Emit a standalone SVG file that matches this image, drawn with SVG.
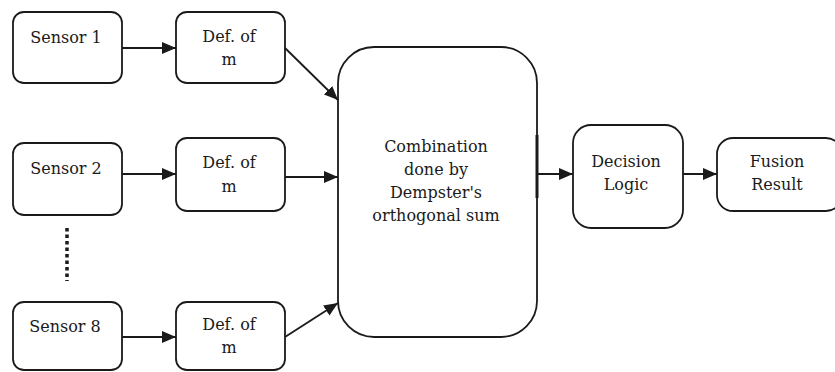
<svg xmlns="http://www.w3.org/2000/svg" width="835" height="372" viewBox="0 0 835 372">
<style>
.box{fill:#fff;stroke:#1a1a1a;stroke-width:1.8}
.c{stroke:#1a1a1a;stroke-width:1.8;fill:none}
</style>
<defs>
<marker id="ah" viewBox="0 0 14 12" refX="14" refY="6" markerWidth="14" markerHeight="12" markerUnits="userSpaceOnUse" orient="auto">
<path d="M0,0 L14,6 L0,12 z" fill="#1a1a1a"/>
</marker>
</defs>
<rect width="835" height="372" fill="#fff"/>
<g font-family="DejaVu Serif, serif" font-size="16" fill="#1a1a1a" text-anchor="middle">
<g id="sensor1"><rect class="box" x="13" y="12" width="109" height="71" rx="11"/><text x="66" y="43">Sensor 1</text></g>
<g id="def1"><rect class="box" x="176" y="12" width="109" height="71" rx="11"/><text x="229" y="42">Def. of</text><text x="229" y="65">m</text></g>
<g id="sensor2"><rect class="box" x="13" y="143" width="109" height="72" rx="11"/><text x="66" y="174">Sensor 2</text></g>
<g id="def2"><rect class="box" x="176" y="138" width="109" height="73" rx="11"/><text x="229" y="168">Def. of</text><text x="229" y="192">m</text></g>
<g id="dots"><line x1="67" y1="228" x2="67" y2="281" stroke="#1a1a1a" stroke-width="3.5" stroke-dasharray="3.5,3"/></g>
<g id="sensor8"><rect class="box" x="13" y="302" width="109" height="68" rx="11"/><text x="65" y="332">Sensor 8</text></g>
<g id="def3"><rect class="box" x="176" y="302" width="109" height="68" rx="11"/><text x="229" y="330">Def. of</text><text x="229" y="353">m</text></g>
<g id="combination"><rect class="box" x="338" y="47" width="199" height="290" rx="36"/><line x1="537" y1="135" x2="537" y2="198" stroke="#1a1a1a" stroke-width="3"/>
<text x="436" y="152">Combination</text><text x="436" y="175">done by</text><text x="436" y="198">Dempster's</text><text x="436" y="221">orthogonal sum</text></g>
<g id="decision"><rect class="box" x="573" y="125" width="110" height="103" rx="18"/><text x="626" y="167">Decision</text><text x="626" y="190">Logic</text></g>
<g id="fusion"><rect class="box" x="717" y="138" width="125" height="73" rx="16"/><text x="777" y="167">Fusion</text><text x="777" y="190">Result</text></g>
</g>
<g id="connectors">
<line class="c" x1="122" y1="48" x2="176" y2="48" marker-end="url(#ah)"/>
<line class="c" x1="122" y1="174" x2="176" y2="174" marker-end="url(#ah)"/>
<line class="c" x1="122" y1="337" x2="176" y2="337" marker-end="url(#ah)"/>
<line class="c" x1="285" y1="48" x2="338" y2="100" marker-end="url(#ah)"/>
<line class="c" x1="285" y1="177" x2="338" y2="177" marker-end="url(#ah)"/>
<line class="c" x1="285" y1="337" x2="338" y2="303" marker-end="url(#ah)"/>
<line class="c" x1="537" y1="174" x2="573" y2="174" marker-end="url(#ah)"/>
<line class="c" x1="683" y1="174" x2="717" y2="174" marker-end="url(#ah)"/>
</g>
</svg>
